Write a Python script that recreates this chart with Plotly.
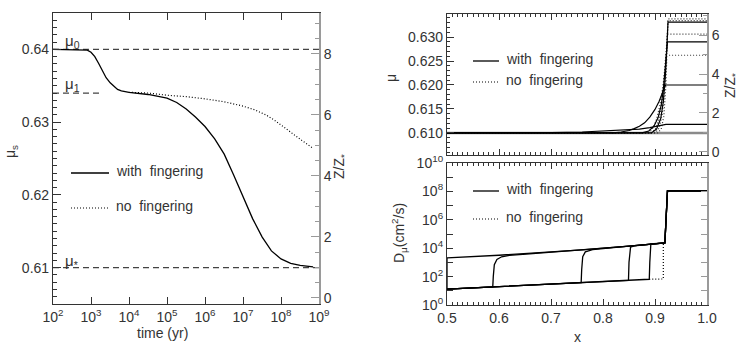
import plotly.graph_objects as go

W, H = 747, 348

# ---------------- Left panel data: surface mu vs time ----------------
time_with = [1e2, 4e2, 6.3e2, 8e2, 1e3, 1.26e3, 1.58e3, 2e3, 2.5e3, 3.2e3, 4e3, 5e3,
             6.3e3, 8e3, 1e4, 3.2e4, 1e5, 1.8e5, 3.2e5, 5.6e5, 1e6, 1.8e6, 3.2e6,
             5.6e6, 1e7, 1.8e7, 3.2e7, 5.6e7, 1e8, 1.8e8, 3.2e8, 7e8]
mu_with = [0.6400, 0.6400, 0.63998, 0.6399, 0.6396, 0.6390, 0.6381, 0.6370, 0.6361,
           0.6354, 0.6349, 0.6345, 0.6343, 0.6342, 0.6341, 0.6338, 0.6333, 0.6327,
           0.6318, 0.6307, 0.6294, 0.6277, 0.6256, 0.6228, 0.6197, 0.6167, 0.6142,
           0.6123, 0.6112, 0.6106, 0.6103, 0.6101]
time_nofing = [1e4, 3.2e4, 1e5, 3.2e5, 1e6, 3.2e6, 1e7, 2e7, 4e7, 7e7, 1.2e8, 2e8,
               3.5e8, 7e8]
mu_nofing = [0.6341, 0.6340, 0.6337, 0.6335, 0.6332, 0.6328, 0.6322, 0.6317, 0.6310,
             0.6302, 0.6293, 0.6285, 0.6275, 0.6264]
mu_levels = {"mu0": 0.640, "mu1": 0.634, "mustar": 0.610}
mu1_end = 2e3
time_span = [1e2, 1e9]
zratio_span = [1.0, 1.0]   # Z/Z* = 1 at mu*

# ---------------- Right top: mu profiles vs x ----------------
x_init = [0.5, 1.0]
mu_init = [0.610, 0.610]
prof_with = [
    ([0.5, 0.62, 0.70, 0.76, 0.80, 0.84, 0.87, 0.89, 0.905, 0.915, 0.921, 1.0],
     [0.6100, 0.6100, 0.61005, 0.6102, 0.6104, 0.6106, 0.6108, 0.6111, 0.6114, 0.6117,
      0.6118, 0.6118]),
    ([0.5, 0.82, 0.835, 0.85, 0.86, 0.87, 0.88, 0.89, 0.90, 0.908, 0.914, 0.918, 0.921, 1.0],
     [0.6100, 0.6100, 0.6102, 0.6105, 0.6109, 0.6114, 0.6121, 0.6133, 0.6149, 0.6166,
      0.6183, 0.6196, 0.6200, 0.6200]),
    ([0.5, 0.875, 0.888, 0.898, 0.906, 0.912, 0.916, 0.919, 0.922, 0.924, 1.0],
     [0.6100, 0.6100, 0.6104, 0.6114, 0.6132, 0.6158, 0.6190, 0.6225, 0.6265, 0.6290, 0.6290]),
    ([0.5, 0.893, 0.903, 0.911, 0.916, 0.920, 0.923, 0.925, 1.0],
     [0.6100, 0.6100, 0.6108, 0.6130, 0.6165, 0.6220, 0.6285, 0.6331, 0.6331]),
]
prof_nofing = [
    ([0.5, 0.905, 0.912, 0.917, 0.921, 0.924, 0.925, 1.0],
     [0.610, 0.610, 0.6108, 0.6135, 0.6200, 0.6300, 0.6338, 0.6338]),
    ([0.5, 0.900, 0.908, 0.914, 0.919, 0.923, 0.925, 1.0],
     [0.610, 0.610, 0.6110, 0.6140, 0.6200, 0.6290, 0.6334, 0.6334]),
    ([0.5, 0.893, 0.901, 0.908, 0.914, 0.919, 0.923, 0.924, 1.0],
     [0.610, 0.610, 0.6108, 0.6130, 0.6170, 0.6230, 0.6290, 0.6306, 0.6306]),
    ([0.5, 0.885, 0.894, 0.902, 0.909, 0.915, 0.920, 0.922, 1.0],
     [0.610, 0.610, 0.6106, 0.6125, 0.6155, 0.6195, 0.6240, 0.6262, 0.6262]),
]

# ---------------- Right bottom: D_mu profiles vs x ----------------
D_with = [
    ([0.5, 0.5, 0.6, 0.76, 0.85, 0.919, 0.924, 1.0],
     [13, 2.1e3, 3.2e3, 7.6e3, 1.4e4, 2.4e4, 1.1e8, 1.1e8]),
    ([0.5, 0.588, 0.589, 0.591, 0.596, 0.605, 0.62, 0.76, 0.85, 0.919, 0.924, 1.0],
     [13, 19, 100, 700, 1.6e3, 2.5e3, 3.1e3, 7.6e3, 1.4e4, 2.4e4, 1.1e8, 1.1e8]),
    ([0.5, 0.59, 0.758, 0.759, 0.761, 0.766, 0.78, 0.85, 0.919, 0.924, 1.0],
     [13, 19, 38, 300, 2.5e3, 5.5e3, 8.0e3, 1.4e4, 2.4e4, 1.1e8, 1.1e8]),
    ([0.5, 0.59, 0.76, 0.849, 0.850, 0.853, 0.86, 0.919, 0.924, 1.0],
     [13, 19, 38, 55, 1.0e3, 1.2e4, 1.45e4, 2.4e4, 1.1e8, 1.1e8]),
    ([0.5, 0.59, 0.76, 0.85, 0.889, 0.890, 0.892, 0.919, 0.924, 1.0],
     [13, 19, 38, 55, 65, 1.0e3, 2.0e4, 2.4e4, 1.1e8, 1.1e8]),
]
D_nofing_x = [0.889, 0.916, 0.916, 0.919]
D_nofing = [65, 68, 2.2e4, 2.4e4]

# tick labels
time_ticks = [1e2, 1e3, 1e4, 1e5, 1e6, 1e7, 1e8, 1e9]
time_ticktext = ["10<sup>%d</sup>" % k for k in range(2, 10)]
D_ticks = [10.0 ** k for k in range(0, 11)]
D_ticktext = ["10<sup>%d</sup>" % k if k % 2 == 0 else "" for k in range(0, 11)]
x_ticks = [0.5, 0.6, 0.7, 0.8, 0.9, 1.0]
x_ticktext = ["0.5", "0.6", "0.7", "0.8", "0.9", "1.0"]

FONT = "Liberation Sans, Arial, Helvetica, sans-serif"
TXT = "#333333"
AX = "#333333"
GRAYAX = "#9a9a9a"
DOT = "1px,2px"
FS = 14

fig = go.Figure()

# left panel
for key in ["mu0", "mustar"]:
    fig.add_trace(go.Scatter(x=time_span, y=[mu_levels[key]] * 2, mode="lines",
                             line=dict(color="#444", width=1.2, dash="6px,4px"),
                             xaxis="x", yaxis="y", showlegend=False, hoverinfo="skip"))
fig.add_trace(go.Scatter(x=[time_span[0], mu1_end], y=[mu_levels["mu1"]] * 2, mode="lines",
                         line=dict(color="#444", width=1.2, dash="6px,4px"),
                         xaxis="x", yaxis="y", showlegend=False, hoverinfo="skip"))
fig.add_trace(go.Scatter(x=time_nofing, y=mu_nofing, mode="lines",
                         line=dict(color="black", width=1.2, dash=DOT),
                         xaxis="x", yaxis="y", showlegend=False))
fig.add_trace(go.Scatter(x=time_with, y=mu_with, mode="lines",
                         line=dict(color="black", width=1.3),
                         xaxis="x", yaxis="y", showlegend=False))
fig.add_trace(go.Scatter(x=time_span, y=zratio_span, mode="lines", opacity=0,
                         line=dict(width=0), xaxis="x", yaxis="y2", showlegend=False,
                         hoverinfo="skip"))

# right top
fig.add_trace(go.Scatter(x=x_init, y=mu_init, mode="lines",
                         line=dict(color="#8a8a8a", width=2.5),
                         xaxis="x2", yaxis="y3", showlegend=False))
for xs, ys in prof_nofing:
    fig.add_trace(go.Scatter(x=xs, y=ys, mode="lines",
                             line=dict(color="#333", width=1.2, dash=DOT),
                             xaxis="x2", yaxis="y3", showlegend=False))
for xs, ys in prof_with:
    fig.add_trace(go.Scatter(x=xs, y=ys, mode="lines",
                             line=dict(color="black", width=1.2),
                             xaxis="x2", yaxis="y3", showlegend=False))
fig.add_trace(go.Scatter(x=x_init, y=zratio_span, mode="lines", opacity=0,
                         line=dict(width=0), xaxis="x2", yaxis="y4", showlegend=False,
                         hoverinfo="skip"))

# right bottom
fig.add_trace(go.Scatter(x=D_nofing_x, y=D_nofing, mode="lines",
                         line=dict(color="black", width=1.2, dash=DOT),
                         xaxis="x3", yaxis="y5", showlegend=False))
for xs, ys in D_with:
    fig.add_trace(go.Scatter(x=xs, y=ys, mode="lines",
                             line=dict(color="black", width=1.3),
                             xaxis="x3", yaxis="y5", showlegend=False))
fig.add_trace(go.Scatter(x=x_init, y=[D_ticks[0], D_ticks[0]], mode="lines", opacity=0,
                         line=dict(width=0), xaxis="x3", yaxis="y6", showlegend=False,
                         hoverinfo="skip"))


def px(v):
    return v / W


def py(v):
    return 1 - v / H


tickfont = dict(family=FONT, size=FS, color=TXT)
common = dict(showgrid=False, zeroline=False, showline=True, linecolor=AX, linewidth=1.2,
              ticks="inside", tickcolor=AX, tickfont=tickfont, automargin=False)
graycommon = dict(showgrid=False, zeroline=False, showline=True, linecolor=GRAYAX,
                  linewidth=2, ticks="inside", tickcolor=GRAYAX, tickfont=tickfont,
                  automargin=False)

L = dict(l=53, r=319, t=13, b=304)
RT = dict(l=447, r=707, t=14, b=155)
RB = dict(l=447, r=707, t=163, b=305)

fig.update_layout(
    width=W, height=H, margin=dict(l=0, r=0, t=0, b=0, autoexpand=False),
    paper_bgcolor="white", plot_bgcolor="white", showlegend=False,
    font=dict(family=FONT, size=FS, color=TXT),
    xaxis=dict(domain=[px(L["l"]), px(L["r"])], type="log", range=[2, 9], anchor="y",
               tickvals=time_ticks, ticktext=time_ticktext, ticklen=7, mirror="ticks",
               **common),
    yaxis=dict(domain=[py(L["b"]), py(L["t"])], range=[0.605, 0.645], anchor="x",
               tickvals=[0.61, 0.62, 0.63, 0.64], ticktext=["0.61", "0.62", "0.63", "0.64"],
               ticklen=8, minor=dict(dtick=0.001, ticks="inside", ticklen=4, tickcolor=AX),
               **common),
    yaxis2=dict(overlaying="y", side="right", anchor="x", range=[-0.2, 9.34],
                tickvals=[0, 2, 4, 6, 8], ticklen=8,
                minor=dict(dtick=0.5, ticks="inside", ticklen=4, tickcolor=GRAYAX),
                **graycommon),
    xaxis2=dict(domain=[px(RT["l"]), px(RT["r"])], range=[0.5, 1.0], anchor="y3",
                tickvals=x_ticks, showticklabels=False, ticklen=6, mirror="ticks",
                minor=dict(dtick=0.01, ticks="inside", ticklen=3, tickcolor=AX), **common),
    yaxis3=dict(domain=[py(RT["b"]), py(RT["t"])], range=[0.6054, 0.6348], anchor="x2",
                tickvals=[0.610, 0.615, 0.620, 0.625, 0.630],
                ticktext=["0.610", "0.615", "0.620", "0.625", "0.630"], ticklen=7,
                minor=dict(dtick=0.001, ticks="inside", ticklen=3, tickcolor=AX), **common),
    yaxis4=dict(overlaying="y3", side="right", anchor="x2", range=[-0.16, 7.09],
                tickvals=[0, 2, 4, 6], ticklen=8,
                minor=dict(dtick=1, ticks="inside", ticklen=4, tickcolor=GRAYAX),
                **graycommon),
    xaxis3=dict(domain=[px(RB["l"]), px(RB["r"])], range=[0.5, 1.0], anchor="y5",
                tickvals=x_ticks, ticktext=x_ticktext, ticklen=6, mirror="ticks",
                minor=dict(dtick=0.01, ticks="inside", ticklen=3, tickcolor=AX), **common),
    yaxis5=dict(domain=[py(RB["b"]), py(RB["t"])], type="log", range=[0, 10], anchor="x3",
                tickvals=D_ticks, ticktext=D_ticktext, ticklen=6, **common),
    yaxis6=dict(overlaying="y5", side="right", anchor="x3", type="log", range=[0, 10],
                tickvals=D_ticks, showticklabels=False, ticklen=6, **graycommon),
)

ann = []


def add_text(x, y, text, angle=0, xanchor="center", yanchor="middle", size=FS):
    ann.append(dict(x=px(x), y=py(y), xref="paper", yref="paper", text=text,
                    showarrow=False, textangle=angle, xanchor=xanchor, yanchor=yanchor,
                    font=dict(family=FONT, size=size, color=TXT)))


# axis titles
add_text(162, 333, "time (yr)")
add_text(11, 152, "μ<sub>s</sub>", angle=-90)
add_text(340, 167, "Z/Z<sub>*</sub>", angle=-90)
add_text(577, 337, "x")
add_text(391, 78, "μ", angle=-90)
add_text(399, 233, "D<sub>μ</sub>(cm<sup>2</sup>/s)", angle=-90)
add_text(731, 86, "Z/Z<sub>*</sub>", angle=-90)

# mu level labels
add_text(63, 41, "μ<sub>0</sub>", xanchor="left", size=15)
add_text(63, 85, "μ<sub>1</sub>", xanchor="left", size=15)
add_text(63, 261, "μ<sub>*</sub>", xanchor="left", size=15)

# legends
shapes = []


def legend(x0, x1, ytop, ybot, tx):
    shapes.append(dict(type="line", xref="paper", yref="paper", x0=px(x0), x1=px(x1),
                       y0=py(ytop), y1=py(ytop), line=dict(color="black", width=1.3)))
    shapes.append(dict(type="line", xref="paper", yref="paper", x0=px(x0), x1=px(x1),
                       y0=py(ybot), y1=py(ybot), line=dict(color="black", width=1.2, dash=DOT)))
    add_text(tx, ytop - 2, "with  fingering", xanchor="left")
    add_text(tx, ybot - 2, "no  fingering", xanchor="left")


legend(71, 109, 173, 208, 114)
legend(473, 499, 61, 82, 504)
legend(473, 499, 191, 219, 504)

fig.update_layout(annotations=ann, shapes=shapes)

post = ("document.body.style.margin='0px';document.body.style.padding='0px';"
        "document.body.style.overflow='hidden';"
        "var d=document.getElementById('{plot_id}');"
        "d.style.position='fixed';d.style.left='0px';d.style.top='0px';")
fig.write_html("out.html", config={"displayModeBar": False, "responsive": False},
               post_script=post)
